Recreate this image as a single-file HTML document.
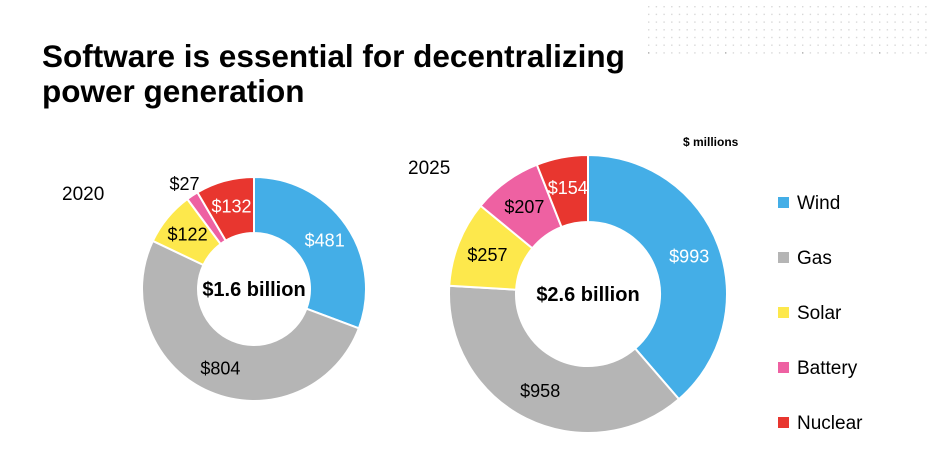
<!DOCTYPE html>
<html><head><meta charset="utf-8"><style>
body{margin:0;background:#fff;width:934px;height:462px;overflow:hidden;font-family:"Liberation Sans",sans-serif;}
svg{position:absolute;left:0;top:0}
</style></head><body>
<svg width="934" height="462" id="svg">
<g id="dots"></g>
<text x="42" y="67" font-size="31.5" font-weight="bold">Software is essential for decentralizing</text>
<text x="42" y="102" font-size="31.5" font-weight="bold">power generation</text>
<text x="683" y="146" font-size="12" font-weight="bold">$ millions</text>
<text x="62" y="200" font-size="19">2020</text>
<text x="408" y="174" font-size="19">2025</text>
<g id="d1"></g>
<g id="d2"></g>
<g id="legend"></g>
</svg>
<script>
const categories=["Wind","Gas","Solar","Battery","Nuclear"];
const values2020=[481,804,122,27,132];
const values2025=[993,958,257,207,154];
const colors=["#44aee7","#b5b5b5","#fde84c","#ee61a2","#e8362f"];
const labelColors=["#fff","#000","#000","#000","#fff"];
const NS="http://www.w3.org/2000/svg";
function mk(t,a,p){const e=document.createElementNS(NS,t);for(const k in a)e.setAttribute(k,a[k]);p.appendChild(e);return e;}
const dg=document.getElementById('dots');
for(let r=0;r<7;r++)for(let c=0;c<37;c++){
 const d=mk('rect',{x:648+c*7.7,y:6+r*7.7,width:1.4,height:1.4,fill:(c%10==0&&r==6)?'#aaa':'#d8d8d8'},dg);
 
 
}
function pt(cx,cy,r,a){return [cx+r*Math.sin(a),cy-r*Math.cos(a)];}
function donut(g,vals,cx,cy,ro,ri,total,fs,labelR,overrides){
 const sum=vals.reduce((a,b)=>a+b,0);let a0=0;
 vals.forEach((v,i)=>{
  const a1=a0+v/sum*2*Math.PI;const lg=(a1-a0)>Math.PI?1:0;
  const [x0,y0]=pt(cx,cy,ro,a0),[x1,y1]=pt(cx,cy,ro,a1),[x2,y2]=pt(cx,cy,ri,a1),[x3,y3]=pt(cx,cy,ri,a0);
  const p=mk('path',{d:`M${x0},${y0}A${ro},${ro} 0 ${lg} 1 ${x1},${y1}L${x2},${y2}A${ri},${ri} 0 ${lg} 0 ${x3},${y3}Z`,fill:colors[i],stroke:'#fff','stroke-width':2},g);
  
  
  const am=(a0+a1)/2;let lr=labelR,col=labelColors[i];
  if(overrides&&overrides[i]){lr=overrides[i];col='#000';}
  const [lx,ly]=pt(cx,cy,lr,am);
  const t=mk('text',{x:lx,y:ly+fs*0.35,'font-size':fs,'text-anchor':'middle',fill:col},g);
  t.textContent='$'+vals[i];
  
  
  a0=a1;
 });
 const t=mk('text',{x:cx,y:cy+7,'font-size':20,'font-weight':'bold','text-anchor':'middle'},g);
 t.textContent=total;
 
 
}
donut(document.getElementById('d1'),values2020,254,289,112,56,'$1.6 billion',18,86,{3:126});
donut(document.getElementById('d2'),values2025,588,294,139,72,'$2.6 billion',18,108,null);
const lg=document.getElementById('legend');
categories.forEach((c,i)=>{
 const y=203+i*55;
 const r=mk('rect',{x:778,y:y-6,width:11,height:11,fill:colors[i]},lg);
 
 
 const t=mk('text',{x:797,y:y+6,'font-size':19},lg);
 t.textContent=c;
 
 
});
</script>
</body></html>
